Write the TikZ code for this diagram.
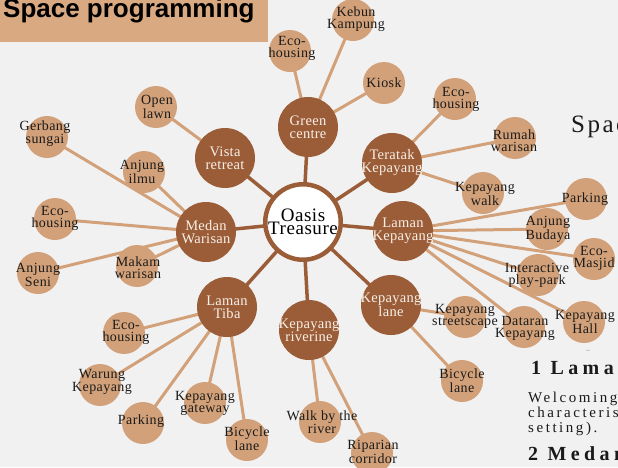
\documentclass[tikz,border=0pt]{standalone}
\usepackage{fontspec}
\setmainfont{Liberation Serif}
\newfontfamily\titlefont{Liberation Sans}
\newfontfamily\lsmall[LetterSpace=3]{Liberation Serif}
\newfontfamily\ldark[LetterSpace=2]{Liberation Serif}
\newfontfamily\lcent[LetterSpace=3]{Liberation Serif}
\newfontfamily\lright[LetterSpace=10]{Liberation Serif}
\newfontfamily\lbody[LetterSpace=17]{Liberation Serif}
\newfontfamily\lhead[LetterSpace=22]{Liberation Serif}
\pgfdeclarelayer{bg}
\pgfsetlayers{bg,main}
\definecolor{bgc}{HTML}{F1F1F1}
\definecolor{titlec}{HTML}{D9AA82}
\definecolor{darkc}{HTML}{9B5C38}
\definecolor{lightc}{HTML}{D2A179}
\definecolor{txt}{HTML}{1A1A1A}
\definecolor{wtxt}{HTML}{F8F0E8}
\begin{document}
\begin{tikzpicture}[x=1pt,y=-1pt,
 lc/.style={circle,fill=lightc,minimum size=42pt,inner sep=0pt},
 dc/.style={circle,fill=darkc,minimum size=60pt,inner sep=0pt},
 lt/.style={align=center,inner sep=0pt,text=txt,font=\lsmall\fontsize{14}{12}\selectfont},
 dt/.style={align=center,inner sep=0pt,text=wtxt,font=\ldark\fontsize{14.5}{13}\selectfont},
 le/.style={draw=lightc,line width=3pt},
 de/.style={draw=darkc,line width=3.5pt},
 rt/.style={anchor=base west,inner sep=0pt,text=txt}]
\useasboundingbox (0,0) rectangle (618,467);
\clip (0,0) rectangle (618,467);
% title
\fill[titlec] (0,0) rectangle (268,42);
\node[anchor=base west,inner sep=0pt,text=black,font=\titlefont\bfseries\fontsize{26}{26}\selectfont] (title) at (3,17) {Space programming};
% centre
\node[circle,draw=darkc,line width=4.5pt,fill=white,minimum size=75.5pt,inner sep=0pt] (oasis) at (303,222) {};
\node[align=center,inner sep=0pt,text=black,font=\lcent\fontsize{19}{13}\selectfont] (oasist) at (303,222) {Oasis\\Treasure};
% level 1
\node[dc] (gc) at (308,127) {};
\node[dc] (tk) at (392,163) {};
\node[dc] (lk) at (403,231) {};
\node[dc] (kl) at (391,305) {};
\node[dc] (kr) at (309,330) {};
\node[dc] (tiba) at (227,307) {};
\node[dc] (mw) at (206,232) {};
\node[dc] (vr) at (225,158) {};
\node[dt] (gct) at (gc) {Green\\centre};
\node[dt] (tkt) at (tk) {Teratak\\Kepayang};
\node[dt] (lkt) at (lk) {Laman\\Kepayang};
\node[dt] (klt) at (kl) {Kepayang\\lane};
\node[dt] (krt) at (kr) {Kepayang\\riverine};
\node[dt] (tibat) at (tiba) {Laman\\Tiba};
\node[dt] (mwt) at (mw) {Medan\\Warisan};
\node[dt] (vrt) at (vr) {Vista\\retreat};
% level 2 circles
\node[lc] (g1) at (290,51) {};
\node[lc] (g2) at (353,20) {};
\node[lc] (g3) at (384,83) {};
\node[lc] (t1) at (455,99) {};
\node[lc] (t2) at (515,138) {};
\node[lc] (t3) at (483,193) {};
\node[lc] (k1) at (586,199) {};
\node[lc] (k2) at (547,229) {};
\node[lc] (k3) at (594,259) {};
\node[lc] (k4) at (538,275) {};
\node[lc] (k5) at (584,322) {};
\node[lc] (k6) at (524,327) {};
\node[lc] (l1) at (465,317) {};
\node[lc] (l2) at (462,381) {};
\node[lc] (r1) at (320,422) {};
\node[lc] (r2) at (372,453) {};
\node[lc] (b1) at (124,333) {};
\node[lc] (b2) at (100,385) {};
\node[lc] (b3) at (143,423) {};
\node[lc] (b4) at (205,403) {};
\node[lc] (b5) at (247,440) {};
\node[lc] (m1) at (47,137) {};
\node[lc] (m2) at (144,172) {};
\node[lc] (m3) at (55,219) {};
\node[lc] (m4) at (38,273) {};
\node[lc] (m5) at (137,266) {};
\node[lc] (v1) at (156,107) {};
% level 2 labels
\node[lt] (g1t) at (292,48) {Eco-\\housing};
\node[lt] (g2t) at (356,19) {Kebun\\Kampung};
\node[lt] (g3t) at (384,83) {Kiosk};
\node[lt] (t1t) at (456,99) {Eco-\\housing};
\node[lt] (t2t) at (514,141) {Rumah\\warisan};
\node[lt] (t3t) at (485,194) {Kepayang\\walk};
\node[lt] (k1t) at (585,199) {Parking};
\node[lt] (k2t) at (548,229) {Anjung\\Budaya};
\node[lt] (k3t) at (594,258) {Eco-\\Masjid};
\node[lt] (k4t) at (537,275) {Interactive\\play-park};
\node[lt] (k5t) at (585,322) {Kepayang\\Hall};
\node[lt] (k6t) at (525,328) {Dataran\\Kepayang};
\node[lt] (l1t) at (465,316) {Kepayang\\streetscape};
\node[lt] (l2t) at (462,381) {Bicycle\\lane};
\node[lt] (r1t) at (322,422) {Walk by the\\river};
\node[lt] (r2t) at (373,452) {Riparian\\corridor};
\node[lt] (b1t) at (126,332) {Eco-\\housing};
\node[lt] (b2t) at (102,382) {Warung\\Kepayang};
\node[lt] (b3t) at (141,421) {Parking};
\node[lt] (b4t) at (205,403) {Kepayang\\gateway};
\node[lt] (b5t) at (247,439) {Bicycle\\lane};
\node[lt] (m1t) at (45,134) {Gerbang\\sungai};
\node[lt] (m2t) at (142,172) {Anjung\\ilmu};
\node[lt] (m3t) at (55,218) {Eco-\\housing};
\node[lt] (m4t) at (38,275) {Anjung\\Seni};
\node[lt] (m5t) at (138,268) {Makam\\warisan};
\node[lt] (v1t) at (157,107) {Open\\lawn};
% background and connectors
\begin{pgfonlayer}{bg}
\fill[bgc] (0,0) rectangle (618,467);
\foreach \a in {gc,tk,lk,kl,kr,tiba,mw,vr} \draw[de] (oasis.center) -- (\a.center);
\foreach \a in {g1,g2,g3} \draw[le] (gc.center) -- (\a.center);
\foreach \a in {t1,t2,t3} \draw[le] (tk.center) -- (\a.center);
\foreach \a in {k1,k2,k3,k4,k5,k6} \draw[le] (lk.center) -- (\a.center);
\foreach \a in {l1,l2} \draw[le] (kl.center) -- (\a.center);
\foreach \a in {r1,r2} \draw[le] (kr.center) -- (\a.center);
\foreach \a in {b1,b2,b3,b4,b5} \draw[le] (tiba.center) -- (\a.center);
\foreach \a in {m1,m2,m3,m4,m5} \draw[le] (mw.center) -- (\a.center);
\draw[le] (vr.center) -- (v1.center);
\end{pgfonlayer}
% right-hand text
\node[rt,font=\lright\fontsize{25}{25}\selectfont] (sp) at (571,132) {Space};
\node[inner sep=0pt,text=gray,font=\fontsize{8}{8}\selectfont] (dash) at (588,351) {–};
\node[rt,font=\lhead\bfseries\fontsize{20}{20}\selectfont] (h1) at (531,374) {1 Laman Kepayang};
\node[rt,font=\lbody\fontsize{15}{15}\selectfont] (w1) at (528,402) {Welcoming};
\node[rt,font=\lbody\fontsize{15}{15}\selectfont] (w2) at (528,417) {characteristics};
\node[rt,font=\lbody\fontsize{15}{15}\selectfont] (w3) at (528,432) {setting).};
\node[rt,font=\lhead\bfseries\fontsize{20}{20}\selectfont] (h2) at (528,460) {2 Medan Warisan};
\end{tikzpicture}
\end{document}
